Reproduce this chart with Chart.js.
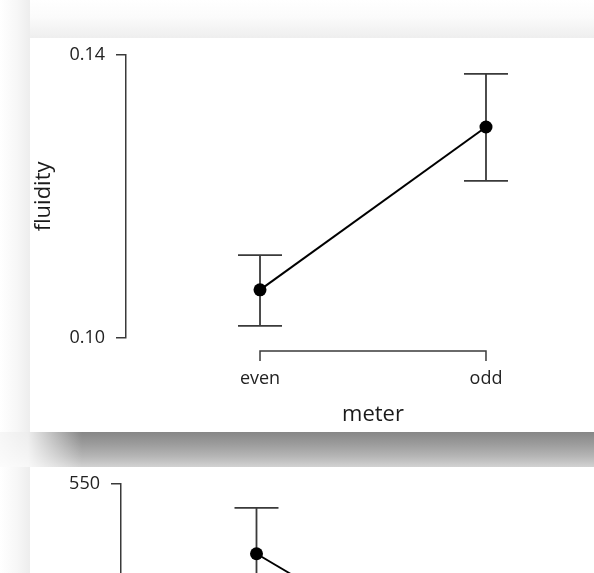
<!DOCTYPE html>
<html>
<head>
<meta charset="utf-8">
<script src="https://cdn.jsdelivr.net/npm/chart.js@4/dist/chart.umd.min.js"></script>
<style>
  html, body { margin: 0; padding: 0; width: 594px; height: 573px; overflow: hidden; background: #fff; }
  #top-shade { position: absolute; left: 0; top: 0; width: 594px; height: 38px;
    background: linear-gradient(to bottom, #ffffff 0%, #fbfbfb 45%, #eeeeee 100%); }
  #left-shade { position: absolute; left: 0; top: 0; width: 30px; height: 573px;
    background: linear-gradient(to right, #ffffff 0%, #f7f7f7 55%, #ededed 100%); }
  #band { position: absolute; left: 0; top: 432px; width: 594px; height: 35px;
    background: linear-gradient(to bottom, #868686 0%, #9c9c9c 35%, #b6b6b6 70%, #d2d2d2 100%); }
  #band-fade { position: absolute; left: 0; top: 432px; width: 90px; height: 35px;
    background: linear-gradient(to right, rgba(255,255,255,0.93) 0px, rgba(255,255,255,0.85) 28px, rgba(255,255,255,0) 82px); }
  .panel { position: absolute; left: 30px; width: 600px; height: 394px; background: #fff; overflow: hidden; }
  .panel canvas { position: absolute; left: 0; top: -5px; }
  #p1 { top: 38px; }
  #p2 { top: 467px; }
</style>
</head>
<body>
<div id="top-shade"></div>
<div id="left-shade"></div>
<div id="band"></div>
<div id="band-fade"></div>
<div class="panel" id="p1"><canvas id="c1" width="600" height="399"></canvas></div>
<div class="panel" id="p2"><canvas id="c2" width="600" height="399"></canvas></div>
<script>
// Factor levels on the horizontal axis
const meter = ['even', 'odd'];

// Fluidity: means with lower / upper interval bounds
const fluidityMean  = [0.1068, 0.1298];
const fluidityLower = [0.1017, 0.1222];
const fluidityUpper = [0.1117, 0.1373];
const fluidityTicks = [0.10, 0.14];

// Second descriptives plot
const secondMean  = [525.3, 478.4];
const secondLower = [509.0, 462.0];
const secondUpper = [541.5, 494.8];
const secondTicks = [450, 550];

Chart.defaults.font.family = "'Open Sans', 'Noto Sans', sans-serif";

const INK = '#3a3a3a';
const TEXT = '#222222';

// Vertical interval bars with caps, drawn under the points
const errorBars = {
  id: 'errorBars',
  beforeDatasetsDraw(chart, args, opts) {
    const { ctx, scales: { x, y } } = chart;
    ctx.save();
    ctx.strokeStyle = INK;
    ctx.lineWidth = 1.8;
    opts.lower.forEach((lo, i) => {
      const px = x.getPixelForValue(i);
      const yl = y.getPixelForValue(lo);
      const yu = y.getPixelForValue(opts.upper[i]);
      ctx.beginPath();
      ctx.moveTo(px, yl); ctx.lineTo(px, yu);
      ctx.moveTo(px - 22, yl); ctx.lineTo(px + 22, yl);
      ctx.moveTo(px - 22, yu); ctx.lineTo(px + 22, yu);
      ctx.stroke();
    });
    ctx.restore();
  }
};

// Range-frame bracket for the categorical axis (first to last level)
const xBracket = {
  id: 'xBracket',
  afterDraw(chart) {
    const { ctx, chartArea, scales: { x } } = chart;
    const vals = x.ticks.map(t => t.value);
    const x0 = x.getPixelForValue(Math.min(...vals));
    const x1 = x.getPixelForValue(Math.max(...vals));
    const yb = chartArea.bottom + 13;
    ctx.save();
    ctx.strokeStyle = INK;
    ctx.lineWidth = 1.5;
    ctx.beginPath();
    ctx.moveTo(x0, yb + 10); ctx.lineTo(x0, yb); ctx.lineTo(x1, yb); ctx.lineTo(x1, yb + 10);
    ctx.stroke();
    ctx.restore();
  }
};

function descriptivesPlot(canvasId, cfg) {
  return new Chart(document.getElementById(canvasId), {
    type: 'line',
    data: {
      datasets: [{
        data: cfg.mean.map((m, i) => ({ x: i, y: m })),
        borderColor: '#000',
        borderWidth: 2,
        backgroundColor: '#000',
        pointRadius: 6.5,
        pointHoverRadius: 6.5,
        pointBackgroundColor: '#000',
        pointBorderWidth: 0,
        tension: 0
      }]
    },
    options: {
      responsive: false,
      devicePixelRatio: 1,
      animation: false,
      events: [],
      layout: { padding: { top: 0, right: 10, bottom: 0, left: 0 } },
      plugins: {
        legend: { display: false },
        tooltip: { enabled: false },
        errorBars: { lower: cfg.lower, upper: cfg.upper }
      },
      scales: {
        x: {
          type: 'linear',
          min: cfg.xMin,
          max: cfg.xMax,
          afterBuildTicks: axis => { axis.ticks = meter.map((_, i) => ({ value: i })); },
          afterFit: scale => { scale.height = 94; },
          grid: { display: false, drawTicks: false, tickLength: 0 },
          border: { display: false },
          ticks: {
            autoSkip: false,
            maxRotation: 0,
            padding: 30,
            color: TEXT,
            font: { size: 18 },
            callback: v => meter[v]
          },
          title: {
            display: true,
            text: 'meter',
            color: '#1a1a1a',
            font: { size: 22 },
            padding: { top: 0, bottom: 4 }
          }
        },
        y: {
          type: 'linear',
          min: cfg.ticks[0],
          max: cfg.ticks[cfg.ticks.length - 1],
          afterBuildTicks: axis => { axis.ticks = cfg.ticks.map(v => ({ value: v })); },
          afterFit: scale => { scale.width = cfg.axisWidth; },
          grid: {
            display: true,
            drawOnChartArea: false,
            drawTicks: true,
            tickLength: 10,
            color: INK,
            lineWidth: 1.5
          },
          border: { display: true, color: INK, width: 1.5 },
          ticks: {
            padding: 11,
            color: TEXT,
            font: { size: 18 },
            callback: cfg.fmt
          },
          title: {
            display: !!cfg.yTitle,
            text: cfg.yTitle || '',
            color: '#1a1a1a',
            font: { size: 22 },
            padding: { top: 1, bottom: 0 }
          }
        }
      }
    },
    plugins: [errorBars, xBracket]
  });
}

descriptivesPlot('c1', {
  mean: fluidityMean, lower: fluidityLower, upper: fluidityUpper,
  ticks: fluidityTicks, yTitle: 'fluidity',
  fmt: v => v.toFixed(2),
  axisWidth: 96, xMin: -0.593, xMax: 1.593
});

descriptivesPlot('c2', {
  mean: secondMean, lower: secondLower, upper: secondUpper,
  ticks: secondTicks, yTitle: null,
  fmt: v => String(v),
  axisWidth: 91, xMin: -0.602, xMax: 1.615
});
</script>
</body>
</html>
